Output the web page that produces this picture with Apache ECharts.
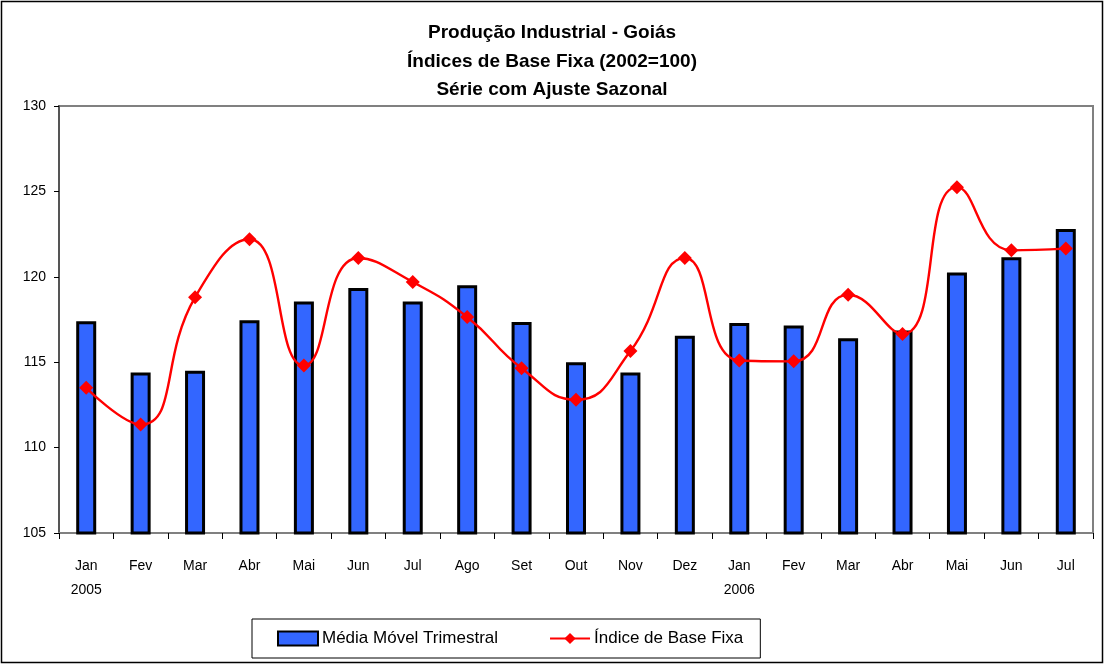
<!DOCTYPE html>
<html><head><meta charset="utf-8">
<script src="https://cdn.jsdelivr.net/npm/echarts@6/dist/echarts.min.js"></script>
<style>html,body{margin:0;padding:0;background:#fff}#c{width:1104px;height:664px}</style>
</head><body><div id="c"></div>
<script>
const months = ['Jan','Fev','Mar','Abr','Mai','Jun','Jul','Ago','Set','Out','Nov','Dez','Jan','Fev','Mar','Abr','Mai','Jun','Jul'];
const years = ['2005','','','','','','','','','','','','2006','','','','','',''];
const mediaMovel = [117.4,114.4,114.5,117.45,118.55,119.35,118.55,119.5,117.35,115.0,114.4,116.55,117.3,117.15,116.4,116.85,120.25,121.15,122.8];
const indiceBase = [113.5,111.35,118.8,122.2,114.8,121.1,119.7,117.65,114.65,112.8,115.65,121.1,115.1,115.05,118.95,116.65,125.25,121.55,121.65];
const yTicks = [105,110,115,120,125,130];

const chart = echarts.init(document.getElementById('c'));
const font = 'Liberation Sans, Arial, sans-serif';
chart.setOption({
  animation:false,
  textStyle:{fontFamily:font},
  graphic:[{type:'rect',shape:{x:1.5,y:1.5,width:1101,height:661},style:{fill:'none',stroke:'#000',lineWidth:1.5},silent:true}],
  title:{text:'Produção Industrial - Goiás\nÍndices de Base Fixa (2002=100)\nSérie com Ajuste Sazonal',left:'center',top:14,
    textStyle:{fontFamily:font,fontSize:19,fontWeight:'bold',color:'#000',lineHeight:28.5}},
  legend:{top:619,left:252,itemGap:51,itemWidth:40,itemHeight:14,
    padding:[11,17,11,25],borderColor:'#000',borderWidth:1,
    textStyle:{fontFamily:font,fontSize:17,color:'#000',padding:[0,0,0,-1]},
    data:[{name:'Média Móvel Trimestral',icon:'rect'},{name:'Índice de Base Fixa'}]},
  grid:{left:59,right:11,top:106,bottom:131,show:true,borderColor:'#808080',borderWidth:2,containLabel:false},
  xAxis:{type:'category',data:months.map((m,i)=>m+'\n'+years[i]),boundaryGap:true,
    axisLine:{lineStyle:{color:'#808080',width:2}},
    axisTick:{show:true,alignWithLabel:false,length:6,lineStyle:{color:'#000'}},
    axisLabel:{color:'#000',fontSize:14,lineHeight:24,margin:21,interval:0}},
  yAxis:{type:'value',min:105,max:130,interval:5,
    axisLine:{show:true,lineStyle:{color:'#555',width:2}},
    axisTick:{show:true,length:5,lineStyle:{color:'#000'}},
    splitLine:{show:false},
    axisLabel:{color:'#000',fontSize:14,margin:13,formatter:v=>yTicks.includes(v)?String(v):''}},
  series:[
    {name:'Média Móvel Trimestral',type:'bar',data:mediaMovel,barWidth:20,
      itemStyle:{color:'#3366FF',borderColor:'#000',borderWidth:3}},
    {name:'Índice de Base Fixa',type:'line',data:indiceBase,smooth:0.5,symbol:'diamond',symbolSize:14,
      lineStyle:{color:'#FF0000',width:2.4},itemStyle:{color:'#FF0000'}}
  ]
});
</script></body></html>
